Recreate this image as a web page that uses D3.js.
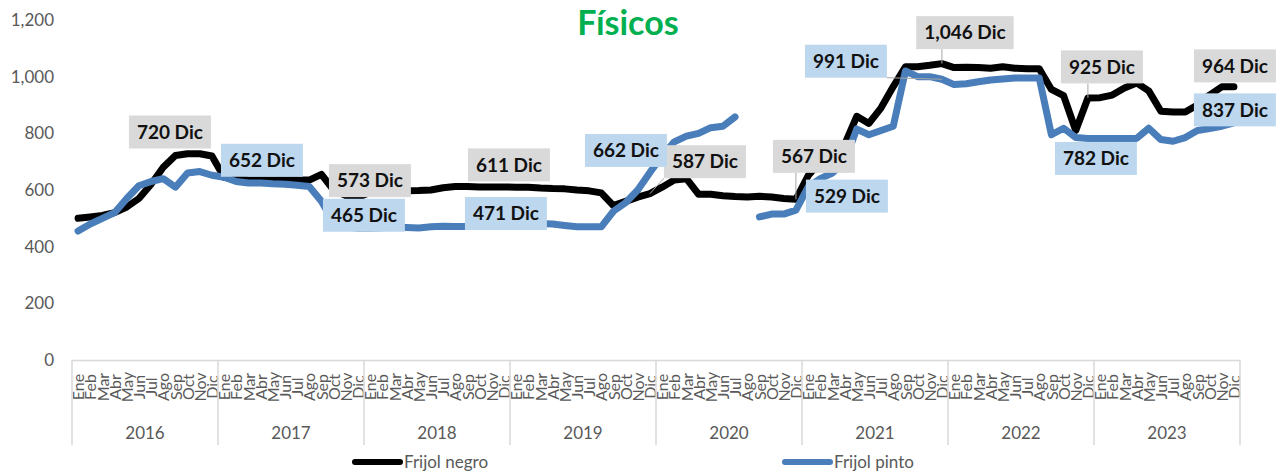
<!DOCTYPE html>
<html>
<head>
<meta charset="utf-8">
<script src="https://cdn.jsdelivr.net/npm/d3@7/dist/d3.min.js"></script>
<style>
  body { margin: 0; background: #fff; }
  svg { display: block; font-family: Lato, 'Open Sans', sans-serif; }
</style>
</head>
<body>
<svg id="chart" width="1282" height="471"></svg>
<script>
const years = [2016, 2017, 2018, 2019, 2020, 2021, 2022, 2023];
const months = ['Ene', 'Feb', 'Mar', 'Abr', 'May', 'Jun', 'Jul', 'Ago', 'Sep', 'Oct', 'Nov', 'Dic'];
const yTicks = [0, 200, 400, 600, 800, 1000, 1200];

// monthly prices, Ene 2016 .. Dic 2023
const frijolNegro = [
  500, 505, 510, 520, 540, 570, 620, 680, 722, 728, 728, 720,
  645, 638, 636, 635, 635, 635, 635, 635, 655, 600, 580, 573,
  592, 595, 597, 597, 598, 600, 608, 612, 612, 611, 611, 611,
  610, 610, 607, 605, 604, 600, 597, 590, 545, 560, 575, 587,
  610, 635, 640, 585, 585, 580, 577, 575, 578, 575, 570, 567,
  650, 700, 740, 760, 860, 835, 890, 965, 1035, 1035, 1040, 1046,
  1032, 1033, 1032, 1030, 1035, 1030, 1028, 1028, 955, 933, 810, 925,
  926, 935, 960, 978, 950, 878, 875, 875, 900, 935, 964, 964
];
const frijolPinto = [
  455, 480, 500, 520, 570, 615, 630, 640, 610, 660, 665, 652,
  645, 630, 625, 625, 622, 620, 617, 612, 560, 485, 470, 465,
  465, 467, 470, 468, 466, 470, 472, 471, 471, 472, 471, 471,
  475, 478, 482, 480, 475, 470, 470, 470, 525, 555, 600, 662,
  720, 770, 790, 800, 820, 825, 858, null, 505, 515, 515, 529,
  610, 640, 660, 700, 815, 795, 810, 825, 1020, 1000, 1000, 991,
  972, 975, 982, 988, 992, 995, 995, 995, 795, 818, 785, 782,
  782, 782, 782, 782, 818, 778, 772, 785, 810, 817, 825, 837
];

// Dic callouts: year index and box-centre offset from the point
const negroCallouts = [[0, -42, -24], [1, 12, -17], [2, 5, -22], [3, 55, -32], [4, 18, -43], [5, 23, -31], [6, 14, -31], [7, 1, -21]];
const pintoCallouts = [[0, 50, -15], [1, 6, -13], [2, 2, -13], [3, -24, -22], [4, 51, -14], [5, -96, -18], [6, 8, 20], [7, 1, -13]];

const svg = d3.select('#chart');
const gray = '#595959';
const n = years.length * 12;

const x = d3.scalePoint().domain(d3.range(n)).range([72, 1240]).padding(0.5);
const step = x.step();
const y = d3.scaleLinear().domain([0, 1200]).range([360, 20]);

// title
svg.append('text')
  .attr('x', 628).attr('y', 35)
  .attr('text-anchor', 'middle')
  .style('font-size', '34px').style('font-weight', 700)
  .attr('fill', '#00B050')
  .text('Físicos');

// y axis
const gy = svg.append('g')
  .attr('transform', 'translate(54,0)')
  .call(d3.axisLeft(y).tickValues(yTicks).tickSize(0).tickPadding(0).tickFormat(d3.format(',')));
gy.select('.domain').remove();
gy.selectAll('text').attr('fill', gray).style('font-size', '17px').style('font-family', 'Lato');

// x axis: months
svg.append('line')
  .attr('x1', 72).attr('x2', 1240).attr('y1', 360.5).attr('y2', 360.5)
  .attr('stroke', '#d9d9d9').attr('stroke-width', 1.5);

const gx = svg.append('g')
  .attr('transform', 'translate(0,360)')
  .call(d3.axisBottom(x).tickSize(0).tickFormat(i => months[i % 12]));
gx.select('.domain').remove();
gx.selectAll('text')
  .attr('transform', 'translate(0,27) rotate(-90)')
  .attr('x', 0).attr('y', 0).attr('dy', '0.35em')
  .attr('text-anchor', 'middle')
  .attr('fill', gray)
  .style('font-size', '16px').style('font-family', 'Lato');

// year dividers and labels
const yearEdges = d3.range(years.length + 1).map(k => 72 + k * 12 * step);
svg.append('g').selectAll('line').data(yearEdges).join('line')
  .attr('x1', d => d).attr('x2', d => d)
  .attr('y1', 360).attr('y2', 445)
  .attr('stroke', '#d9d9d9').attr('stroke-width', 1.5);

svg.append('g').selectAll('text').data(years).join('text')
  .attr('x', (d, k) => (yearEdges[k] + yearEdges[k + 1]) / 2)
  .attr('y', 439)
  .attr('text-anchor', 'middle')
  .attr('fill', gray)
  .style('font-size', '17px')
  .text(d => d);

// lines
const line = d3.line()
  .defined(d => d != null)
  .x((d, i) => x(i))
  .y(d => y(d));

svg.append('path').datum(frijolNegro)
  .attr('d', line).attr('fill', 'none')
  .attr('stroke', '#000').attr('stroke-width', 7)
  .attr('stroke-linejoin', 'round').attr('stroke-linecap', 'round');

svg.append('path').datum(frijolPinto)
  .attr('d', line).attr('fill', 'none')
  .attr('stroke', '#4a7ebb').attr('stroke-width', 7)
  .attr('stroke-linejoin', 'round').attr('stroke-linecap', 'round');

// callouts
function drawCallouts(values, defs, fill) {
  defs.forEach(([k, dx, dy]) => {
    const i = k * 12 + 11;
    const px = x(i), py = y(values[i]);
    const cx = px + dx, cy = py + dy;
    const g = svg.append('g');
    const t = g.append('text')
      .attr('x', cx).attr('y', cy).attr('dy', '0.35em')
      .attr('text-anchor', 'middle')
      .attr('fill', '#111')
      .style('font-size', '19px').style('font-weight', 700)
      .text(d3.format(',')(values[i]) + ' Dic');
    const w = t.node().getBBox().width + 16, h = 33;
    const bx = cx - w / 2, by = cy - h / 2;
    g.insert('rect', 'text')
      .attr('x', bx).attr('y', by).attr('width', w).attr('height', h)
      .attr('fill', fill);
    // leader line from nearest box edge when the point sits away from the box
    const ex = Math.max(bx, Math.min(px, bx + w));
    const ey = Math.max(by, Math.min(py, by + h));
    if (Math.hypot(px - ex, py - ey) > 12) {
      g.insert('line', 'rect')
        .attr('x1', ex).attr('y1', ey).attr('x2', px).attr('y2', py)
        .attr('stroke', '#a6a6a6').attr('stroke-width', 1);
    }
  });
}
drawCallouts(frijolNegro, negroCallouts, '#d9d9d9');
drawCallouts(frijolPinto, pintoCallouts, '#bdd7ee');

// legend
const legend = [['Frijol negro', '#000', 355], ['Frijol pinto', '#4a7ebb', 785]];
legend.forEach(([name, color, lx]) => {
  svg.append('line')
    .attr('x1', lx).attr('x2', lx + 45).attr('y1', 462).attr('y2', 462)
    .attr('stroke', color).attr('stroke-width', 6).attr('stroke-linecap', 'round');
  svg.append('text')
    .attr('x', lx + 49).attr('y', 462).attr('dy', '0.35em')
    .attr('fill', gray).style('font-size', '17px')
    .text(name);
});
</script>
</body>
</html>
